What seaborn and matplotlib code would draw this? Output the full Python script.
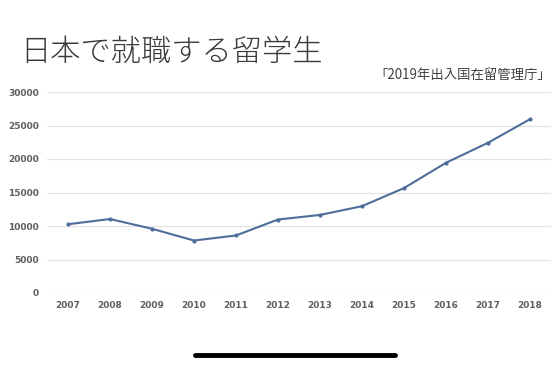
import matplotlib
matplotlib.use("Agg")
import matplotlib.pyplot as plt
import seaborn as sns
import pandas as pd
from matplotlib.lines import Line2D

years = ["2007", "2008", "2009", "2010", "2011", "2012", "2013", "2014", "2015", "2016", "2017", "2018"]
values = [10262, 11040, 9584, 7831, 8586, 10969, 11647, 12958, 15657, 19435, 22419, 25942]
y_ticks = [0, 5000, 10000, 15000, 20000, 25000, 30000]
title = "日本で就職する留学生"
source = "「2019年出入国在留管理庁」"

df = pd.DataFrame({"year": years, "value": values})

sns.set_theme(style="white")
plt.rcParams["font.family"] = ["Noto Sans CJK JP", "DejaVu Sans"]

fig = plt.figure(figsize=(5.54, 3.66), dpi=100)
ax = fig.add_axes([47/554, 1-293/366, 504/554, 201/366])

sns.lineplot(data=df, x="year", y="value", ax=ax, color="#4f6d9c", linewidth=1.5,
             marker="o", markersize=3, markeredgewidth=0, sort=False)

ax.set_xlim(-0.5, len(years) - 0.5)
ax.set_ylim(0, 30000)
ax.set_yticks(y_ticks)
ax.set_yticklabels([str(t) for t in y_ticks])
ax.yaxis.grid(True, color="#e3e3e3", linewidth=0.9)
ax.set_axisbelow(True)
for s in ax.spines.values():
    s.set_visible(False)
ax.set_xlabel("")
ax.set_ylabel("")
ax.tick_params(axis="both", length=0, labelsize=6.5, labelcolor="#5f5f5f")
ax.tick_params(axis="y", pad=6)
ax.tick_params(axis="x", pad=6)
for lbl in ax.get_xticklabels() + ax.get_yticklabels():
    lbl.set_fontweight("bold")
    lbl.set_family(["DejaVu Sans"])

fig.text(20/554, 1-52/366, title, fontsize=21.8, color="#3a3a3a", fontweight="light",
         ha="left", va="center")
fig.text(551/554, 1-75/366, source, fontsize=9.6, color="#404040", ha="right", va="center")

# phone home indicator bar
fig.add_artist(Line2D([195/554, 395/554], [1-355/366, 1-355/366], color="black",
                      linewidth=3.5, solid_capstyle="round", transform=fig.transFigure))

fig.savefig("out.png", dpi=100, facecolor="white")
